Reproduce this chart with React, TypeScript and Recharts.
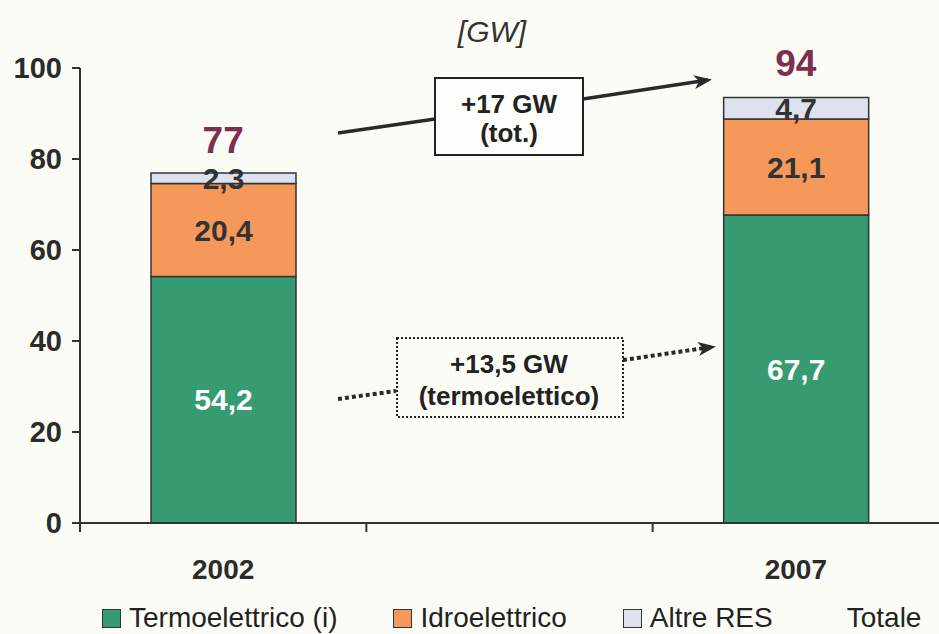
import { ComposedChart, Bar, Line, XAxis, YAxis, Legend, LabelList } from 'recharts';

const anni = ['2002', '', '2007'];
const termoelettrico = [54.2, null, 67.7];
const idroelettrico = [20.4, null, 21.1];
const altreRes = [2.3, null, 4.7];
const totale = [77, null, 94];
const yTicks = [0, 20, 40, 60, 80, 100];

const data = anni.map((anno, i) => ({
  anno,
  termo: termoelettrico[i],
  idro: idroelettrico[i],
  altre: altreRes[i],
  totale: totale[i],
}));

const GREEN = '#369b70';
const ORANGE = '#f6985a';
const GREY = '#dde2ee';
const MAROON = '#7c2f50';
const INK = '#2b2b2b';
const FONT = "'Liberation Sans', Arial, sans-serif";

const legendItems = [
  { label: 'Termoelettrico (i)', color: GREEN },
  { label: 'Idroelettrico', color: ORANGE },
  { label: 'Altre RES', color: GREY },
  { label: 'Totale', color: null },
];

const fmt = (v: any) => (v == null ? '' : Number(v).toFixed(1).replace('.', ','));

function XTick(props: any) {
  const { x, y, payload } = props;
  const half = payload?.offset ?? 143;
  return (
    <g>
      <line x1={x - half} x2={x - half} y1={y} y2={y + 9} stroke="#333" strokeWidth={2} />
      <text
        x={x}
        y={y + 46}
        textAnchor="middle"
        dominantBaseline="central"
        fontSize={28}
        fontWeight="bold"
        fill={INK}
      >
        {payload.value}
      </text>
    </g>
  );
}

function LegendBox() {
  return (
    <div
      style={{
        height: 44,
        boxSizing: 'border-box',
        paddingTop: 12,
        paddingLeft: 102,
        display: 'flex',
        alignItems: 'center',
        fontFamily: FONT,
        fontSize: 28,
        color: '#222',
      }}
    >
      {legendItems.map((it) => (
        <div key={it.label} style={{ display: 'flex', alignItems: 'center', marginRight: it.color ? 56 : 0 }}>
          {it.color && (
            <span
              style={{
                width: 17,
                height: 17,
                background: it.color,
                border: '1.5px solid #333',
                marginRight: 8,
                display: 'inline-block',
              }}
            />
          )}
          <span style={{ marginLeft: it.color ? 0 : 18 }}>{it.label}</span>
        </div>
      ))}
    </div>
  );
}

const totalLabel = (p: any) => {
  if (p.value == null) return null;
  return (
    <text
      x={p.x}
      y={p.y - 32}
      textAnchor="middle"
      dominantBaseline="central"
      fontSize={37}
      fontWeight="bold"
      fill={MAROON}
    >
      {p.value}
    </text>
  );
};

export default function App() {
  const segLabel = { fontSize: 30, fontWeight: 'bold' as const };
  return (
    <div
      style={{
        position: 'absolute',
        left: 0,
        top: 0,
        width: 939,
        height: 634,
        background: '#fcfcf7',
        fontFamily: FONT,
        overflow: 'hidden',
      }}
    >
      <ComposedChart width={939} height={634} data={data} margin={{ top: 68, right: 0, bottom: 0, left: 0 }}>
        <XAxis
          dataKey="anno"
          axisLine={{ stroke: '#333', strokeWidth: 2 }}
          tickLine={false}
          tickSize={0}
          tickMargin={0}
          height={67}
          tick={<XTick />}
          interval={0}
        />
        <YAxis
          domain={[0, 100]}
          ticks={yTicks}
          width={80}
          axisLine={{ stroke: '#333', strokeWidth: 2 }}
          tickLine={{ stroke: '#333', strokeWidth: 2 }}
          tickSize={8}
          tickMargin={10}
          tick={{ fontSize: 29, fontWeight: 'bold', fill: INK }}
        />
        <Legend verticalAlign="bottom" content={<LegendBox />} />
        <Bar dataKey="termo" stackId="a" fill={GREEN} stroke="#333" strokeWidth={1.5} barSize={145} isAnimationActive={false}>
          <LabelList dataKey="termo" position="center" formatter={fmt} fill="#fff" {...segLabel} />
        </Bar>
        <Bar dataKey="idro" stackId="a" fill={ORANGE} stroke="#333" strokeWidth={1.5} barSize={145} isAnimationActive={false}>
          <LabelList dataKey="idro" position="center" formatter={fmt} fill="#333" {...segLabel} />
        </Bar>
        <Bar dataKey="altre" stackId="a" fill={GREY} stroke="#333" strokeWidth={1.5} barSize={145} isAnimationActive={false}>
          <LabelList dataKey="altre" position="center" formatter={fmt} fill="#333" {...segLabel} />
        </Bar>
        <Line
          dataKey="totale"
          stroke="none"
          dot={false}
          activeDot={false}
          isAnimationActive={false}
          legendType="none"
        >
          <LabelList dataKey="totale" content={totalLabel} />
        </Line>
      </ComposedChart>

      <svg
        width={939}
        height={634}
        style={{ position: 'absolute', left: 0, top: 0, pointerEvents: 'none' }}
        fontFamily={FONT}
      >
        <defs>
          <marker id="head" markerWidth="18" markerHeight="14" refX="14" refY="7" orient="auto" markerUnits="userSpaceOnUse">
            <path d="M0,0 L18,7 L0,14 L5,7 Z" fill="#2a2a2a" />
          </marker>
        </defs>
        <text x={492} y={42} textAnchor="middle" fontSize={30} fontStyle="italic" fill="#333">
          [GW]
        </text>

        <line x1={338} y1={133} x2={435} y2={119} stroke="#2a2a2a" strokeWidth={3.5} />
        <line x1={583} y1={99} x2={708} y2={80} stroke="#2a2a2a" strokeWidth={3.5} markerEnd="url(#head)" />
        <rect x={435} y={78} width={148} height={77} fill="#fdfdf9" stroke="#222" strokeWidth={2} />
        <text x={509} y={104} textAnchor="middle" dominantBaseline="central" fontSize={26} fontWeight="bold" fill="#222">
          +17 GW
        </text>
        <text x={509} y={133} textAnchor="middle" dominantBaseline="central" fontSize={26} fontWeight="bold" fill="#222">
          (tot.)
        </text>

        <line x1={338} y1={399} x2={396} y2={391} stroke="#2a2a2a" strokeWidth={4} strokeDasharray="4 3" />
        <line x1={623} y1={360} x2={712} y2={347} stroke="#2a2a2a" strokeWidth={4} strokeDasharray="4 3" markerEnd="url(#head)" />
        <rect x={397} y={338} width={226} height={79} fill="none" stroke="#222" strokeWidth={2} strokeDasharray="2 2" />
        <text x={509} y={364} textAnchor="middle" dominantBaseline="central" fontSize={26} fontWeight="bold" fill="#222">
          +13,5 GW
        </text>
        <text x={509} y={396} textAnchor="middle" dominantBaseline="central" fontSize={26} fontWeight="bold" fill="#222">
          (termoelettico)
        </text>
      </svg>
    </div>
  );
}
